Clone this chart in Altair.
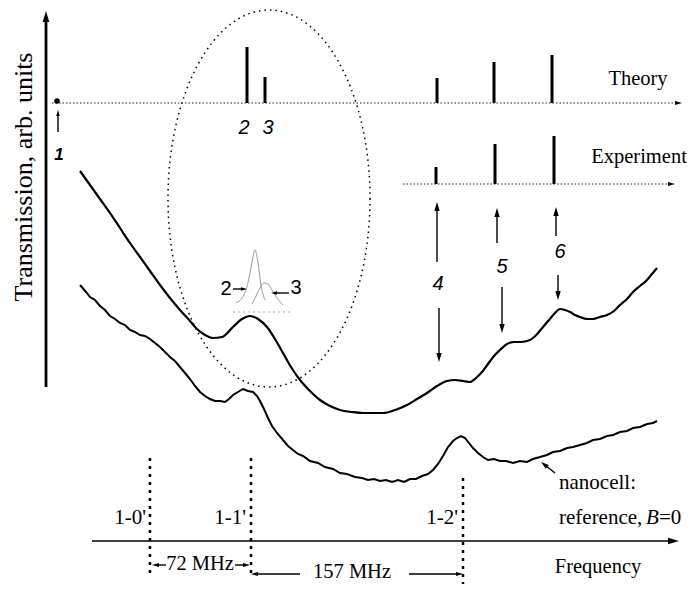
import altair as alt
import pandas as pd

# ---------------- data (reference pixel coordinates) ----------------
upper_x = [80, 90, 100, 110, 120, 130, 140, 150, 160, 170, 180, 190, 197, 205, 213, 222, 233, 242, 250, 258,
           267, 275, 283, 291, 300, 310, 320, 330, 340, 352, 363, 375, 383, 395, 407, 417, 427, 437, 447, 455,
           463, 470, 476, 482, 488, 494, 500, 507, 514, 520, 527, 533, 538, 543, 549, 555, 560, 565, 570, 575,
           580, 587, 593, 600, 607, 614, 620, 627, 633, 640, 647, 652, 657]
upper_y = [171, 185, 199, 213, 228, 243, 257, 271, 285, 298, 310, 321, 329, 335, 338, 337, 327, 319, 316, 319,
           327, 339, 353, 367, 380, 391, 400, 406, 410, 412, 413, 413, 413, 410, 405, 399, 393, 386, 381, 380,
           381, 382, 378, 372, 364, 356, 350, 344, 342, 342, 341, 338, 333, 327, 320, 313, 309, 310, 312, 315,
           317, 319, 319, 317, 315, 311, 305, 299, 292, 286, 280, 274, 268]

lower_x = [80, 86, 90, 95, 100, 105, 110, 115, 120, 125, 130, 135, 140, 145, 150, 155, 160, 165, 170, 175,
           180, 185, 190, 195, 200, 205, 210, 215, 220, 225, 229, 233, 238, 243, 248, 253, 257, 260, 264, 268,
           272, 277, 283, 288, 293, 298, 303, 310, 318, 325, 333, 340, 347, 355, 362, 368, 374, 380, 386, 392,
           398, 404, 410, 416, 422, 428, 433, 438, 443, 448, 453, 457, 461, 465, 469, 473, 478, 483, 488, 494,
           500, 506, 513, 520, 527, 533, 540, 547, 553, 560, 567, 573, 580, 587, 593, 600, 607, 613, 620, 627,
           633, 640, 647, 653, 657]
lower_y = [285, 292, 297, 300, 306, 310, 316, 319, 323, 325, 330, 332, 335, 336, 339, 343, 347, 352, 357, 361,
           367, 373, 379, 386, 392, 396, 399, 401, 401, 402, 399, 395, 392, 389, 391, 392, 396, 401, 409, 418,
           426, 433, 440, 446, 450, 454, 456, 461, 463, 467, 469, 473, 474, 477, 478, 480, 479, 481, 480, 482,
           480, 482, 479, 479, 476, 474, 470, 464, 456, 447, 441, 438, 436, 438, 443, 448, 453, 457, 460, 459,
           461, 461, 463, 461, 462, 459, 457, 455, 452, 451, 448, 447, 445, 443, 440, 439, 436, 435, 432, 431,
           428, 427, 424, 423, 421]

# faint inset profiles (lines 2 and 3)
inset2_x = [236, 242, 246, 249, 252, 255, 258, 261, 265]
inset2_y = [303, 298, 290, 278, 262, 250, 263, 285, 300]
inset3_x = [252, 256, 260, 264, 268, 272, 277, 283]
inset3_y = [304, 296, 288, 283, 284, 290, 298, 305]

# theory / experiment sticks: x, top, base
theory_x = [247, 265, 437, 494, 552]
theory_top = [47, 77, 78, 62, 55]
theory_base = 103
exp_x = [436, 495, 554]
exp_top = [167, 144, 136]
exp_base = 184

# arrow shafts: x1, y1, x2, y2
shaft_x1 = [58, 437, 439, 497, 502, 556, 558, 166, 235, 300, 409, 555, 233, 289, 46, 92]
shaft_y1 = [132, 262, 308, 243, 287, 236, 275, 565, 565, 574, 574, 473, 289, 293, 387, 541]
shaft_x2 = [58, 437, 439, 497, 502, 556, 558, 156, 246, 255, 457, 545, 243, 276, 46, 670]
shaft_y2 = [114, 208, 356, 214, 327, 213, 294, 565, 565, 574, 574, 465, 289, 293, 20, 541]

# arrow heads: tip x, tip y, direction (deg, clockwise from up), size
head_x = [58, 437, 439, 497, 502, 556, 558, 152, 250, 251, 463, 541, 247, 271, 46, 679, 682, 675]
head_y = [110, 202, 362, 208, 333, 207, 300, 565, 565, 574, 574, 462, 289, 293, 11, 541, 103, 184]
head_ang = [0, 0, 180, 0, 180, 0, 180, 270, 90, 270, 90, 308, 90, 270, 0, 90, 90, 90]
head_size = [144, 324, 324, 324, 324, 324, 324, 196, 196, 196, 196, 256, 144, 144, 484, 484, 196, 196]

# dotted horizontal baselines: x1, x2, y
base_x1 = [52, 403]
base_x2 = [674, 668]
base_y = [103, 184]

# transition markers (thick dotted verticals)
trans_x = [150, 251, 463]
trans_y1 = [458, 458, 478]
trans_y2 = [576, 576, 592]

# ellipse (centre, radii)
ell_cx, ell_cy, ell_rx, ell_ry = 269, 198.5, 101, 188.5

# ---------------- helpers ----------------
XS = alt.Scale(domain=[8, 691])
YS = alt.Scale(domain=[8, 584], reverse=True)


def xe(f="x"):
    return alt.X(f + ":Q", scale=XS, axis=None)


def ye(f="y"):
    return alt.Y(f + ":Q", scale=YS, axis=None)


def curve(xs, ys, **kw):
    df = pd.DataFrame({"x": xs, "y": ys, "o": range(len(xs))})
    return alt.Chart(df).mark_line(**kw).encode(x=xe(), y=ye(), order="o:Q")


def rules(x1, y1, x2, y2, **kw):
    df = pd.DataFrame({"x": x1, "y": y1, "x2": x2, "y2": y2})
    return alt.Chart(df).mark_rule(**kw).encode(x=xe(), y=ye(), x2="x2:Q", y2="y2:Q")


def texts(rows, **kw):
    df = pd.DataFrame(rows, columns=["x", "y", "t"])
    return alt.Chart(df).mark_text(**kw).encode(x=xe(), y=ye(), text="t:N")


SERIF = "Liberation Serif"
SANS = "Liberation Sans"

layers = []

# curves
layers.append(curve(upper_x, upper_y, color="black", strokeWidth=2.2, interpolate="monotone"))
layers.append(curve(lower_x, lower_y, color="black", strokeWidth=2.0))
layers.append(curve(inset2_x, inset2_y, color="#9a9a9a", strokeWidth=1, interpolate="monotone"))
layers.append(curve(inset3_x, inset3_y, color="#9a9a9a", strokeWidth=1, interpolate="monotone"))
layers.append(rules([233], [312], [292], [312], color="#aaaaaa", strokeWidth=1, strokeDash=[2, 3]))

# sticks
layers.append(rules(theory_x, theory_top, theory_x, [theory_base] * len(theory_x), color="black", strokeWidth=3))
layers.append(rules(exp_x, exp_top, exp_x, [exp_base] * len(exp_x), color="black", strokeWidth=3))

# dotted baselines
layers.append(rules(base_x1, base_y, base_x2, base_y, color="#222222", strokeWidth=1, strokeDash=[1.5, 2]))

# transition markers
layers.append(rules(trans_x, trans_y1, trans_x, trans_y2, color="black", strokeWidth=2.5, strokeDash=[3, 5]))

# arrow shafts (vertical axis thicker)
layers.append(rules(shaft_x1[:14], shaft_y1[:14], shaft_x2[:14], shaft_y2[:14], color="black", strokeWidth=1.4))
layers.append(rules(shaft_x1[14:15], shaft_y1[14:15], shaft_x2[14:15], shaft_y2[14:15], color="black", strokeWidth=2.8))
layers.append(rules(shaft_x1[15:], shaft_y1[15:], shaft_x2[15:], shaft_y2[15:], color="black", strokeWidth=1.4))

# arrow heads
arrow_path = "M0,0 L0.3,1 L-0.3,1 Z"
heads = pd.DataFrame({"x": head_x, "y": head_y, "a": head_ang, "s": head_size})
layers.append(
    alt.Chart(heads).mark_point(shape=arrow_path, filled=True, color="black", opacity=1, strokeWidth=0)
    .encode(x=xe(), y=ye(), angle=alt.Angle("a:Q", scale=None), size=alt.Size("s:Q", scale=None, legend=None))
)

# dot for line 1
layers.append(
    alt.Chart(pd.DataFrame({"x": [57], "y": [101]})).mark_point(shape="circle", filled=True, color="black", opacity=1, size=30)
    .encode(x=xe(), y=ye())
)

# dotted ellipse
k = 0.5523
r = ell_rx / ell_ry
ell_path = (
    f"M{r},0 C{r},{k} {r*k},1 0,1 C{-r*k},1 {-r},{k} {-r},0 "
    f"C{-r},{-k} {-r*k},-1 0,-1 C{r*k},-1 {r},{-k} {r},0 Z"
)
layers.append(
    alt.Chart(pd.DataFrame({"x": [ell_cx], "y": [ell_cy]}))
    .mark_point(shape=ell_path, filled=False, stroke="black", strokeWidth=1.5, strokeDash=[1.5, 4], opacity=1,
                size=(2 * ell_ry) ** 2)
    .encode(x=xe(), y=ye())
)

# texts
layers.append(texts([[638, 79, "Theory"], [639, 157, "Experiment"], [598, 567, "Frequency"],
                     [200, 564, "72 MHz"], [352, 572, "157 MHz"]],
                    font=SERIF, fontSize=20.5, align="center", baseline="middle", color="black"))
layers.append(texts([[146, 518, "1-0'"], [246, 518, "1-1'"], [458, 518, "1-2'"]],
                    font=SERIF, fontSize=21, align="right", baseline="middle", color="black"))
layers.append(texts([[559, 483, "nanocell:"], [559, 518, "reference,"], [659, 518, "=0"]],
                    font=SERIF, fontSize=21, align="left", baseline="middle", color="black"))
layers.append(texts([[646, 518, "B"]],
                    font=SERIF, fontSize=21, fontStyle="italic", align="left", baseline="middle", color="black"))
layers.append(texts([[244, 128, "2"], [268, 128, "3"], [438, 284, "4"], [502, 267, "5"], [560, 252, "6"]],
                    font=SANS, fontSize=20, fontStyle="italic", align="center", baseline="middle", color="black"))
layers.append(texts([[226, 289, "2"], [296, 288, "3"]],
                    font=SANS, fontSize=20, align="center", baseline="middle", color="black"))
layers.append(texts([[59, 155, "1"]],
                    font=SANS, fontSize=17, fontStyle="italic", fontWeight="bold", align="center", baseline="middle",
                    color="black"))
layers.append(texts([[24, 177, "Transmission, arb. units"]],
                    font=SERIF, fontSize=26, angle=270, align="center", baseline="middle", color="black"))

chart = (
    alt.layer(*layers)
    .properties(width=683, height=576, padding=0, autosize=alt.AutoSizeParams(type="none"), background="white")
    .configure_view(stroke=None)
)

chart.save("out.html", embed_options={"renderer": "svg", "actions": False})
